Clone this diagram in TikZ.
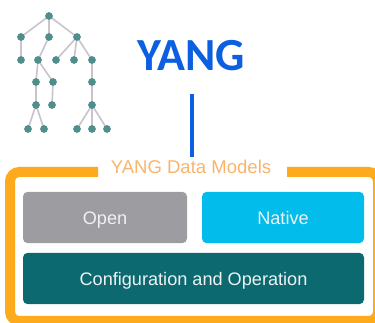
\documentclass[tikz,border=0pt]{standalone}
\usepackage{fontspec}
\setmainfont{Liberation Sans}
\newfontfamily\titlefont{Carlito}
\definecolor{framecol}{HTML}{FDAA1C}
\definecolor{labelcol}{HTML}{FBB36A}
\definecolor{opencol}{HTML}{9D9CA1}
\definecolor{nativecol}{HTML}{02BCEB}
\definecolor{configcol}{HTML}{0C6970}
\definecolor{yangcol}{HTML}{0B5FE0}
\definecolor{dotcol}{HTML}{4E8E8C}
\definecolor{edgecol}{HTML}{C9C3CA}
\definecolor{boxtext}{HTML}{EEF2F2}
\tikzset{
	modelbox/.style={fill=#1,rounded corners=3.5pt,text=boxtext,minimum height=38.5pt,inner sep=0pt,text height=10pt,text depth=.2pt,font=\fontsize{13.6}{15}\selectfont},
	treeedge/.style={edgecol,line width=1.2pt}
}
\begin{document}
\begin{tikzpicture}[x=.75pt,y=-.75pt]
\useasboundingbox (0,0) rectangle (375,323);
\begin{scope}
\clip (0,0) rectangle (375,323);
% tree
\coordinate (t0) at (49,16);
\coordinate (t1) at (21,37);
\coordinate (t2) at (49,37);
\coordinate (t3) at (77,37);
\coordinate (t4) at (21,60);
\coordinate (t5) at (38,60);
\coordinate (t6) at (56,60);
\coordinate (t7) at (74,60);
\coordinate (t8) at (92,60);
\coordinate (t9) at (36,82);
\coordinate (t10) at (53,82);
\coordinate (t11) at (92,82);
\coordinate (t12) at (36,105);
\coordinate (t13) at (52,105);
\coordinate (t14) at (92,105);
\coordinate (t15) at (28,129);
\coordinate (t16) at (44,129);
\coordinate (t17) at (77,129);
\coordinate (t18) at (92,129);
\coordinate (t19) at (107,129);
\foreach \a/\b in {0/1,0/2,0/3,1/4,2/5,3/6,3/7,3/8,5/9,5/10,8/11,9/12,10/13,11/14,12/15,12/16,14/17,14/18,14/19}
{
	\draw[treeedge] (t\a) -- (t\b);
}
\foreach \n in {0,1,...,19}
{
	\fill[dotcol] (t\n) circle (2.9pt);
}

\node[text=yangcol,font=\titlefont\bfseries\fontsize{34.5}{36}\selectfont] (yang) at (191,56) {YANG};
\coordinate (stemtop) at (192,94);
\coordinate (stembot) at (192,157);
\draw[yangcol,line width=2.4pt] (stemtop) -- (stembot);

% frame
\coordinate (gapl) at (98,172);
\coordinate (gapr) at (287,172);
\draw[framecol,line width=7.5pt,rounded corners=7pt] (gapl) -- (10,172) -- (10,321) -- (378,321) -- (378,172) -- (gapr);
\node[text=labelcol,font=\fontsize{13.9}{15}\selectfont] (models) at (191,167) {YANG Data Models};

\node[modelbox=opencol,minimum width=123pt] (open) at (105,217.5) {Open};
\node[modelbox=nativecol,minimum width=121.5pt] (native) at (283,217.5) {Native};
\node[modelbox=configcol,minimum width=255.75pt] (config) at (193.5,278.5) {Configuration and Operation};
\end{scope}
\end{tikzpicture}
\end{document}
